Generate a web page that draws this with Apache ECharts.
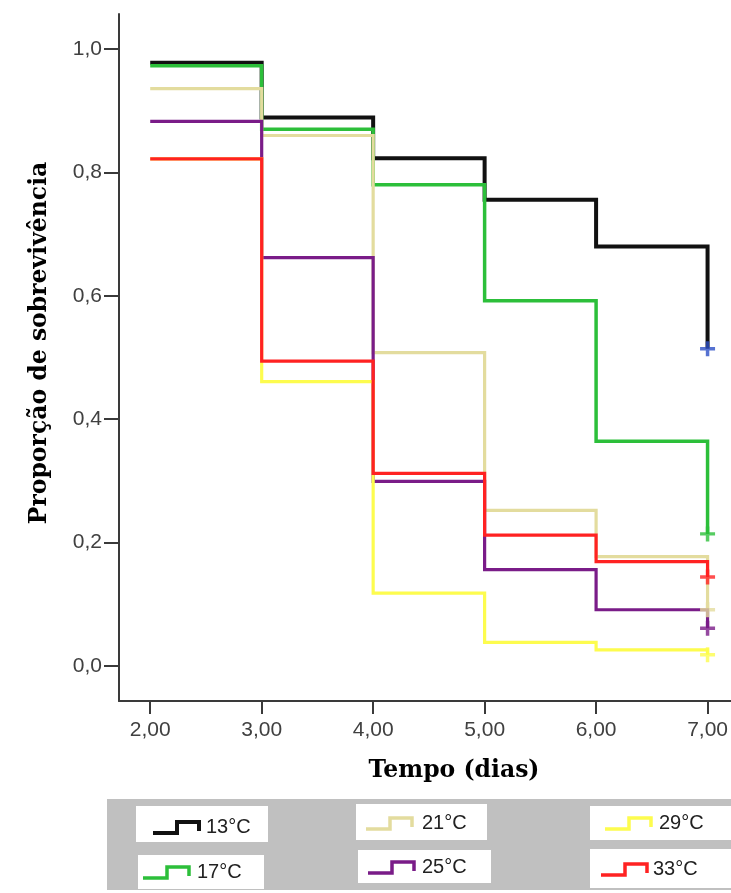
<!DOCTYPE html>
<html>
<head>
<meta charset="utf-8">
<title>Proporção de sobrevivência</title>
<script src="https://cdn.jsdelivr.net/npm/echarts@6/dist/echarts.min.js"></script>
<style>
  html, body { margin: 0; padding: 0; background: #ffffff; }
  #chart { width: 731px; height: 893px; }
</style>
</head>
<body>
<div id="chart"></div>
<script>
// Kaplan-Meier survival by temperature: value held over each day interval,
// last entry is the value at the censoring point (day 7).
const days = [2, 3, 4, 5, 6, 7];
const groups = ['13°C', '17°C', '21°C', '25°C', '29°C', '33°C'];
const surv13 = [0.978, 0.889, 0.823, 0.756, 0.680, 0.514];
const surv17 = [0.973, 0.870, 0.780, 0.592, 0.364, 0.214];
const surv21 = [0.936, 0.860, 0.508, 0.252, 0.177, 0.091];
const surv25 = [0.883, 0.662, 0.299, 0.156, 0.091, 0.061];
const surv29 = [0.822, 0.461, 0.118, 0.038, 0.026, 0.018];
const surv33 = [0.822, 0.494, 0.312, 0.212, 0.169, 0.144];
const yTicks = [0, 0.2, 0.4, 0.6, 0.8, 1.0];
const xTicks = [2, 3, 4, 5, 6, 7];

const survival = [surv13, surv17, surv21, surv25, surv29, surv33];
const lineColors = ['#111111', '#2cbf3a', '#e3dc9e', '#7a1c88', '#fdfc4e', '#ff2222'];
const censorColors = ['#2c4fc6', '#2cbf3a', '#e3dc9e', '#7a1c88', '#fdfc4e', '#ff2222'];
const lineWidths = [4, 3.5, 3.2, 3.2, 3.2, 3.2];

const plusPath = 'path://M5.6,0h3.4v5.6h5.6v3.4h-5.6v5.6h-3.4v-5.6h-5.6v-3.4h5.6z';

const lineSeries = survival.map((s, i) => ({
  name: groups[i],
  type: 'line',
  step: 'end',
  symbol: 'none',
  silent: true,
  z: 2 + i,
  lineStyle: { color: lineColors[i], width: lineWidths[i], join: 'miter', cap: 'butt' },
  data: days.map((d, k) => [d, s[k]])
}));

const censorSeries = survival.map((s, i) => ({
  name: groups[i] + ' censurado',
  type: 'scatter',
  symbol: plusPath,
  symbolSize: 15,
  silent: true,
  z: 10 + i,
  itemStyle: { color: censorColors[i] },
  data: [[days[days.length - 1], s[s.length - 1]]]
}));

// legend panel: grey band with one white box per group
const legendBoxes = [
  { box: [136, 806, 132, 36], iconX: 153, textX: 206, cy: 827 },
  { box: [138, 855, 126, 34], iconX: 143, textX: 197, cy: 872 },
  { box: [356, 804, 131, 36], iconX: 366, textX: 422, cy: 823 },
  { box: [358, 850, 133, 33], iconX: 368, textX: 422, cy: 867 },
  { box: [590, 806, 141, 34], iconX: 605, textX: 659, cy: 823 },
  { box: [590, 849, 141, 39], iconX: 601, textX: 653, cy: 869 }
];

const graphics = [
  { type: 'rect', shape: { x: 107, y: 799, width: 624, height: 91 }, style: { fill: '#c0c0c0' }, silent: true, z: 1 }
];
legendBoxes.forEach((L, i) => {
  const x = L.iconX, cy = L.cy;
  graphics.push({ type: 'rect', shape: { x: L.box[0], y: L.box[1], width: L.box[2], height: L.box[3] }, style: { fill: '#ffffff' }, silent: true, z: 2 });
  graphics.push({
    type: 'polyline', silent: true, z: 3,
    shape: { points: [[x, cy + 6], [x + 24, cy + 6], [x + 24, cy - 5], [x + 46, cy - 5], [x + 46, cy + 4]] },
    style: { stroke: lineColors[i], lineWidth: i === 0 ? 4 : 3.5, fill: null, lineJoin: 'miter' }
  });
  graphics.push({
    type: 'text', silent: true, z: 3, x: L.textX, y: cy,
    style: { text: groups[i], fill: '#222222', font: '20px "Liberation Sans", Arial, sans-serif', textAlign: 'left', textVerticalAlign: 'middle' }
  });
});

// axis titles
graphics.push({
  type: 'text', silent: true, z: 3, x: 40, y: 343, rotation: Math.PI / 2,
  style: { text: 'Proporção de sobrevivência', fill: '#000000', font: 'bold 23.5px "DejaVu Serif", serif', textAlign: 'center', textVerticalAlign: 'middle' }
});
graphics.push({
  type: 'text', silent: true, z: 3, x: 454, y: 771,
  style: { text: 'Tempo (dias)', fill: '#000000', font: 'bold 23.5px "DejaVu Serif", serif', textAlign: 'center', textVerticalAlign: 'middle' }
});

const axisColor = '#3a3a3a';
const chart = echarts.init(document.getElementById('chart'), null, { renderer: 'canvas' });
chart.setOption({
  animation: false,
  backgroundColor: '#ffffff',
  grid: { left: 119, top: 14, right: 0, bottom: 192, containLabel: false },
  xAxis: {
    type: 'value',
    min: 1.72,
    max: 7.21,
    axisLine: { show: true, onZero: false, lineStyle: { color: axisColor, width: 2 } },
    axisTick: { show: true, length: 13, customValues: xTicks, lineStyle: { color: axisColor, width: 2 } },
    axisLabel: {
      customValues: xTicks, margin: 19, color: '#404040', fontSize: 21,
      fontFamily: '"Liberation Sans", Arial, sans-serif',
      formatter: v => v.toFixed(2).replace('.', ',')
    },
    splitLine: { show: false }
  },
  yAxis: {
    type: 'value',
    min: -0.057,
    max: 1.057,
    axisLine: { show: true, onZero: false, lineStyle: { color: axisColor, width: 2 } },
    axisTick: { show: true, length: 15, customValues: yTicks, lineStyle: { color: axisColor, width: 2 } },
    axisLabel: {
      customValues: yTicks, margin: 17, color: '#404040', fontSize: 21,
      fontFamily: '"Liberation Sans", Arial, sans-serif',
      formatter: v => v.toFixed(1).replace('.', ',')
    },
    splitLine: { show: false }
  },
  series: lineSeries.concat(censorSeries),
  graphic: graphics
});
</script>
</body>
</html>
